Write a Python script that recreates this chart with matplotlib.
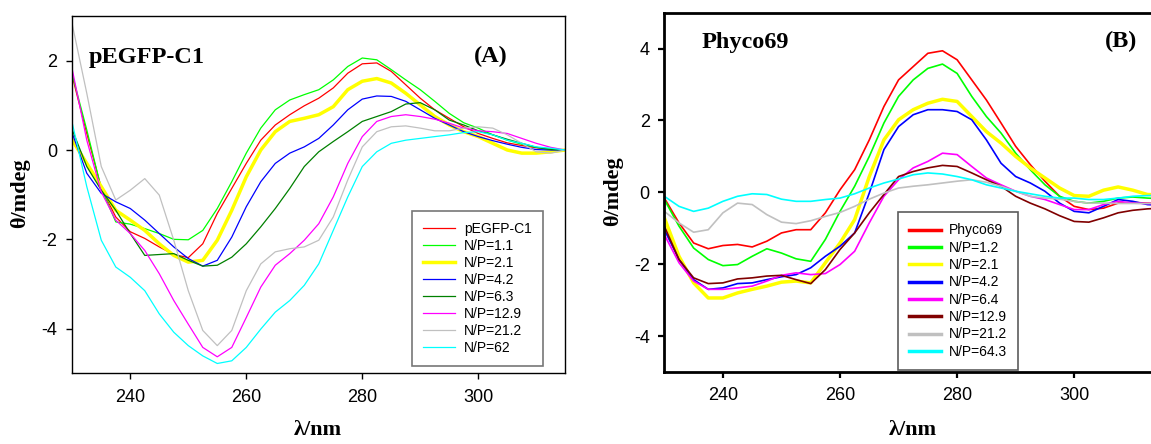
import numpy as np
import matplotlib
matplotlib.use("Agg")
import matplotlib.pyplot as plt

plt.rcParams['font.family'] = ['Liberation Sans', 'DejaVu Sans']
plt.rcParams['axes.unicode_minus'] = False

# wavelength grid shared by both panels (nm)
wl = np.arange(230, 315.1, 2.5)

# panel A : pEGFP-C1 complexes
labels_a = ['pEGFP-C1', 'N/P=1.1', 'N/P=2.1', 'N/P=4.2', 'N/P=6.3',
            'N/P=12.9', 'N/P=21.2', 'N/P=62']
a_pegfp = [1.65, 0.37, -0.85, -1.50, -1.83, -1.98, -2.17, -2.34, -2.41, -2.10, -1.42, -0.86,
           -0.30, 0.22, 0.56, 0.79, 0.99, 1.16, 1.39, 1.72, 1.93, 1.95, 1.76, 1.46,
           1.16, 0.90, 0.71, 0.52, 0.37, 0.26, 0.16, 0.10, 0.05, 0.02, 0.0]
a_np11 = [1.69, 0.45, -0.86, -1.61, -1.66, -1.76, -1.87, -2.00, -2.01, -1.80, -1.31, -0.71,
          -0.07, 0.49, 0.90, 1.12, 1.24, 1.35, 1.57, 1.87, 2.06, 2.02, 1.80, 1.57,
          1.35, 1.09, 0.82, 0.61, 0.49, 0.34, 0.22, 0.13, 0.06, 0.02, 0.0]
a_np21 = [0.22, -0.30, -0.82, -1.35, -1.57, -1.80, -2.10, -2.36, -2.51, -2.47, -2.02, -1.35,
          -0.60, 0.00, 0.41, 0.64, 0.71, 0.79, 0.97, 1.35, 1.54, 1.60, 1.50, 1.27,
          1.01, 0.75, 0.56, 0.41, 0.30, 0.15, 0.00, -0.07, -0.07, -0.04, 0.0]
a_np42 = [0.37, -0.52, -0.97, -1.16, -1.31, -1.57, -1.87, -2.17, -2.43, -2.60, -2.47, -1.95,
          -1.27, -0.71, -0.30, -0.07, 0.07, 0.26, 0.56, 0.90, 1.14, 1.21, 1.20, 1.09,
          0.90, 0.71, 0.56, 0.41, 0.30, 0.21, 0.13, 0.06, 0.01, 0.0, 0.0]
a_np63 = [0.45, -0.37, -0.90, -1.35, -1.87, -2.36, -2.34, -2.32, -2.47, -2.60, -2.58, -2.40,
          -2.10, -1.72, -1.31, -0.86, -0.37, -0.04, 0.19, 0.41, 0.64, 0.75, 0.86, 1.03,
          1.06, 0.90, 0.67, 0.56, 0.43, 0.34, 0.24, 0.15, 0.06, 0.01, 0.0]
a_np129 = [1.80, 0.22, -0.94, -1.57, -1.87, -2.25, -2.77, -3.37, -3.90, -4.42, -4.63, -4.42,
           -3.75, -3.07, -2.58, -2.32, -2.02, -1.65, -1.05, -0.30, 0.30, 0.64, 0.75, 0.79,
           0.75, 0.69, 0.60, 0.49, 0.43, 0.41, 0.37, 0.26, 0.15, 0.06, 0.0]
a_np212 = [2.81, 1.27, -0.37, -1.12, -0.90, -0.64, -1.01, -2.02, -3.15, -4.04, -4.38, -4.04,
           -3.15, -2.55, -2.28, -2.21, -2.17, -2.02, -1.50, -0.67, 0.07, 0.41, 0.52, 0.54,
           0.49, 0.43, 0.43, 0.49, 0.52, 0.49, 0.34, 0.15, -0.04, -0.07, 0.0]
a_np62 = [0.60, -0.82, -2.02, -2.62, -2.85, -3.15, -3.67, -4.08, -4.38, -4.61, -4.78, -4.72,
          -4.42, -4.01, -3.63, -3.37, -3.03, -2.55, -1.80, -1.05, -0.37, -0.04, 0.15, 0.22,
          0.26, 0.30, 0.34, 0.39, 0.41, 0.34, 0.22, 0.15, 0.07, 0.04, 0.0]
series_a = [a_pegfp, a_np11, a_np21, a_np42, a_np63, a_np129, a_np212, a_np62]
colors_a = ['#ff0000', '#00ff00', '#ffff00', '#0000ff', '#008000',
            '#ff00ff', '#c0c0c0', '#00ffff']

# panel B : Phyco69 complexes
labels_b = ['Phyco69', 'N/P=1.2', 'N/P=2.1', 'N/P=4.2', 'N/P=6.4',
            'N/P=12.9', 'N/P=21.2', 'N/P=64.3']
b_phyco = [-0.16, -0.85, -1.41, -1.57, -1.48, -1.45, -1.52, -1.36, -1.13, -1.04, -1.04, -0.57,
           0.07, 0.63, 1.46, 2.39, 3.13, 3.50, 3.87, 3.94, 3.69, 3.13, 2.57, 1.93,
           1.28, 0.77, 0.31, -0.11, -0.39, -0.48, -0.44, -0.30, -0.28, -0.30, -0.31]
b_np12 = [-0.20, -0.94, -1.55, -1.87, -2.04, -2.01, -1.78, -1.57, -1.69, -1.85, -1.92, -1.31,
          -0.53, 0.17, 1.00, 1.93, 2.67, 3.13, 3.45, 3.57, 3.31, 2.67, 2.11, 1.65,
          1.09, 0.63, 0.21, -0.11, -0.25, -0.30, -0.25, -0.16, -0.13, -0.16, -0.18]
b_np21 = [-0.71, -1.78, -2.52, -2.94, -2.94, -2.80, -2.70, -2.61, -2.50, -2.47, -2.52, -1.96,
          -1.41, -0.76, 0.44, 1.46, 2.02, 2.30, 2.48, 2.59, 2.53, 2.11, 1.69, 1.37,
          1.00, 0.68, 0.40, 0.12, -0.09, -0.11, 0.06, 0.15, 0.06, -0.06, -0.07]
b_np42 = [-1.04, -1.87, -2.43, -2.70, -2.66, -2.54, -2.52, -2.43, -2.35, -2.29, -2.10, -1.78,
          -1.50, -1.13, -0.02, 1.19, 1.83, 2.16, 2.30, 2.30, 2.25, 2.02, 1.46, 0.81,
          0.44, 0.26, 0.03, -0.30, -0.53, -0.57, -0.39, -0.20, -0.25, -0.34, -0.36]
b_np64 = [-1.18, -1.96, -2.47, -2.70, -2.70, -2.66, -2.61, -2.47, -2.31, -2.24, -2.29, -2.26,
          -2.01, -1.64, -0.85, -0.11, 0.35, 0.68, 0.86, 1.09, 1.05, 0.72, 0.40, 0.21,
          0.03, -0.11, -0.20, -0.34, -0.48, -0.48, -0.34, -0.25, -0.30, -0.31, -0.32]
b_np129 = [-0.94, -1.87, -2.38, -2.54, -2.52, -2.41, -2.38, -2.33, -2.31, -2.43, -2.54, -2.15,
           -1.59, -1.13, -0.57, -0.06, 0.44, 0.58, 0.68, 0.75, 0.72, 0.54, 0.35, 0.17,
           -0.11, -0.30, -0.46, -0.65, -0.81, -0.83, -0.71, -0.57, -0.50, -0.46, -0.44]
b_np212 = [-0.53, -0.85, -1.11, -1.04, -0.57, -0.30, -0.34, -0.62, -0.83, -0.87, -0.79, -0.67,
           -0.56, -0.39, -0.19, -0.02, 0.12, 0.17, 0.21, 0.26, 0.31, 0.35, 0.28, 0.17,
           0.03, -0.11, -0.16, -0.19, -0.25, -0.30, -0.30, -0.31, -0.31, -0.31, -0.30]
b_np643 = [-0.11, -0.39, -0.53, -0.44, -0.25, -0.11, -0.04, -0.06, -0.19, -0.25, -0.25, -0.20,
           -0.16, -0.04, 0.12, 0.26, 0.37, 0.49, 0.54, 0.51, 0.44, 0.35, 0.21, 0.12,
           0.03, -0.04, -0.11, -0.16, -0.16, -0.20, -0.20, -0.16, -0.11, -0.09, -0.08]
series_b = [b_phyco, b_np12, b_np21, b_np42, b_np64, b_np129, b_np212, b_np643]
colors_b = ['#ff0000', '#00ff00', '#ffff00', '#0000ff', '#ff00ff',
            '#800000', '#c0c0c0', '#00ffff']

xticks = [240, 260, 280, 300]
serif_bold = dict(family='Liberation Serif', weight='bold')

fig = plt.figure(figsize=(11.51, 4.44), dpi=100)

# ---- panel A ----
ax1 = fig.add_axes([0.0628, 0.1592, 0.4283, 0.8047])
for ys, c, lab in zip(series_a, colors_a, labels_a):
    lw = 2.5 if c == '#ffff00' else 0.9
    ax1.plot(wl, ys, color=c, lw=lw, label=lab)
ax1.set_xlim(230, 315)
ax1.set_ylim(-5, 3)
ax1.set_xticks(xticks)
ax1.set_yticks([-4, -2, 0, 2])
for s in ax1.spines.values():
    s.set_linewidth(1.0)
ax1.tick_params(direction='out', length=4, width=1, labelsize=13, pad=7)
ax1.set_xlabel('λ/nm', fontsize=16, **serif_bold)
ax1.set_ylabel('θ/mdeg', fontsize=16, **serif_bold)
ax1.xaxis.set_label_coords(0.498, -0.13)
ax1.yaxis.set_label_coords(-0.085, 0.505)
ax1.text(0.034, 0.883, 'pEGFP-C1', transform=ax1.transAxes, fontsize=17.5,
         ha='left', va='center', **serif_bold)
ax1.text(0.849, 0.888, '(A)', transform=ax1.transAxes, fontsize=17.5,
         ha='center', va='center', **serif_bold)
leg1 = ax1.legend(loc='upper left', bbox_to_anchor=(0.3582, 0.5255),
                  bbox_transform=fig.transFigure, fontsize=10, frameon=True,
                  fancybox=False, borderaxespad=0, borderpad=0.8,
                  labelspacing=0.22, handlelength=2.3, handletextpad=0.6)
leg1.get_frame().set_edgecolor('#555555')
leg1.get_frame().set_linewidth(1.2)

# ---- panel B ----
ax2 = fig.add_axes([0.5772, 0.1622, 0.4324, 0.8092])
for ys, c, lab in zip(series_b, colors_b, labels_b):
    lw = 2.5 if c == '#ffff00' else 1.2
    ax2.plot(wl, ys, color=c, lw=lw, label=lab)
ax2.set_xlim(230, 315)
ax2.set_ylim(-5, 5)
ax2.set_xticks(xticks)
ax2.set_yticks([-4, -2, 0, 2, 4])
for s in ax2.spines.values():
    s.set_linewidth(2.0)
ax2.spines['right'].set_visible(False)
ax2.tick_params(direction='out', length=4.5, width=1.6, labelsize=13, pad=6)
ax2.set_xlabel('λ/nm', fontsize=16, **serif_bold)
ax2.set_ylabel('θ/mdeg', fontsize=16, **serif_bold)
ax2.xaxis.set_label_coords(0.499, -0.135)
ax2.yaxis.set_label_coords(-0.083, 0.502)
ax2.text(0.075, 0.918, 'Phyco69', transform=ax2.transAxes, fontsize=17.5,
         ha='left', va='center', **serif_bold)
ax2.text(0.917, 0.919, '(B)', transform=ax2.transAxes, fontsize=17.5,
         ha='center', va='center', **serif_bold)
leg2 = ax2.legend(loc='upper left', bbox_to_anchor=(0.7805, 0.5218),
                  bbox_transform=fig.transFigure, fontsize=10, frameon=True,
                  fancybox=False, borderaxespad=0, borderpad=0.8,
                  labelspacing=0.24, handlelength=2.3, handletextpad=0.55)
leg2.get_frame().set_edgecolor('#333333')
leg2.get_frame().set_linewidth(1.2)
for h in leg2.get_lines():
    h.set_linewidth(2.5)

fig.savefig('out.png', dpi=100)
